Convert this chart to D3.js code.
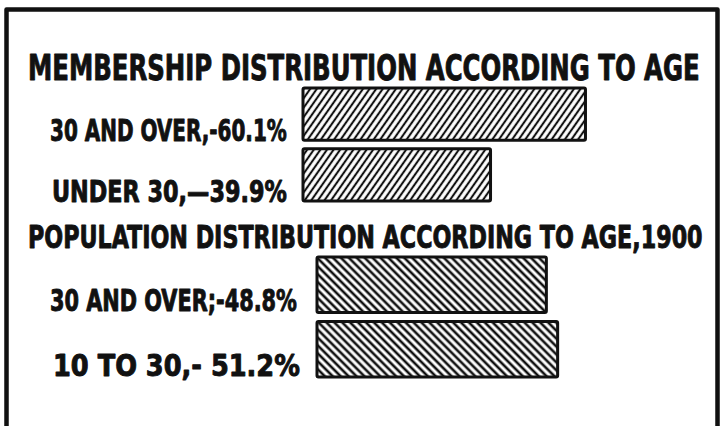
<!DOCTYPE html>
<html lang="en">
<head>
<meta charset="utf-8">
<title>Membership and population distribution according to age</title>
<script src="https://cdn.jsdelivr.net/npm/d3@7"></script>
<style>
  html, body { margin: 0; padding: 0; background: #fff; }
  svg { display: block; }
  .title, .label {
    font-family: "DejaVu Sans Condensed", "Liberation Sans Narrow", "Roboto", sans-serif;
    font-weight: bold;
    fill: #111;
    stroke: #111;
    stroke-width: 0.9;
    stroke-linejoin: round;
  }
</style>
</head>
<body>
<svg id="chart" width="720" height="426"></svg>
<script>
// chart data
var memberTitle = 'MEMBERSHIP DISTRIBUTION ACCORDING TO AGE';
var memberGroups = ['30 AND OVER,-', 'UNDER 30,\u2014'];
var memberShares = [60.1, 39.9];

var popTitle = 'POPULATION DISTRIBUTION ACCORDING TO AGE,1900';
var popGroups = ['30 AND OVER;-', '10 TO 30,- '];
var popShares = [48.8, 51.2];

var pct = function(v) { return d3.format('.1f')(v) + '%'; };

var svg = d3.select('#chart');
var defs = svg.append('defs');

// hatch fills: '/' for members, '\' for population
function hatch(id, angle, gap, sw) {
  var p = defs.append('pattern')
    .attr('id', id)
    .attr('patternUnits', 'userSpaceOnUse')
    .attr('width', gap)
    .attr('height', gap)
    .attr('patternTransform', 'rotate(' + angle + ')');
  p.append('rect').attr('width', gap).attr('height', gap).attr('fill', '#fff');
  p.append('line')
    .attr('x1', gap / 2).attr('x2', gap / 2)
    .attr('y1', 0).attr('y2', gap)
    .attr('stroke', '#111')
    .attr('stroke-width', sw);
}
hatch('hatch-fwd', 35, 5.4, 2.1);
hatch('hatch-back', -45, 5.6, 2.6);

// frame (open at the bottom, like the cut print)
var frame = d3.path();
frame.moveTo(6.5, 426);
frame.lineTo(6.5, 9.5);
frame.lineTo(717.5, 9.5);
frame.lineTo(717.5, 426);
svg.append('path')
  .attr('d', frame.toString())
  .attr('fill', 'none')
  .attr('stroke', '#111')
  .attr('stroke-width', 4.5)
  .attr('stroke-linejoin', 'round');

var x = d3.scaleLinear().domain([0, 100]).range([0, 470]);

// squeeze a text horizontally so it spans the given width
function fit(sel, left, base, width) {
  sel.attr('x', 0).attr('y', 0);
  sel.each(function(d, i) {
    var t = d3.select(this);
    var w = this.getComputedTextLength();
    var l = typeof left === 'function' ? left(d, i) : left;
    var b = typeof base === 'function' ? base(d, i) : base;
    var wd = typeof width === 'function' ? width(d, i) : width;
    t.attr('transform', 'translate(' + l + ',' + b + ') scale(' + (wd / w) + ',1)');
  });
}

function block(opts) {
  var g = svg.append('g');

  g.append('text')
    .attr('class', 'title')
    .attr('font-size', opts.titleSize)
    .text(opts.title)
    .call(fit, opts.titleX, opts.titleY, opts.titleLen);

  var y = d3.scaleBand()
    .domain(opts.groups)
    .range(opts.yRange)
    .paddingInner(0.14)
    .paddingOuter(0);

  var rows = opts.groups.map(function(name, i) {
    return { name: name, value: opts.values[i], i: i };
  });

  g.selectAll('rect.bar')
    .data(rows)
    .enter().append('rect')
    .attr('class', 'bar')
    .attr('x', opts.barX)
    .attr('y', function(d) { return y(d.name); })
    .attr('width', function(d) { return x(d.value); })
    .attr('height', y.bandwidth())
    .attr('fill', 'url(#' + opts.pattern + ')')
    .attr('stroke', '#111')
    .attr('stroke-width', 3)
    .attr('rx', 1.5);

  g.selectAll('text.label')
    .data(rows)
    .enter().append('text')
    .attr('class', 'label')
    .attr('font-size', 30)
    .text(function(d) { return d.name + pct(d.value); })
    .call(fit,
      function(d) { return opts.labelX[d.i]; },
      function(d) { return y(d.name) + y.bandwidth() + opts.labelShift; },
      function(d) { return opts.labelLen[d.i]; });
}

block({
  title: memberTitle, titleX: 28, titleY: 80, titleSize: 35, titleLen: 672,
  groups: memberGroups, values: memberShares,
  yRange: [88, 201], barX: 303, pattern: 'hatch-fwd',
  labelX: [50, 52], labelLen: [237, 235], labelShift: 1
});

block({
  title: popTitle, titleX: 28, titleY: 248, titleSize: 32, titleLen: 675,
  groups: popGroups, values: popShares,
  yRange: [257, 377], barX: 317, pattern: 'hatch-back',
  labelX: [50, 53], labelLen: [247, 247], labelShift: -1
});
</script>
</body>
</html>
